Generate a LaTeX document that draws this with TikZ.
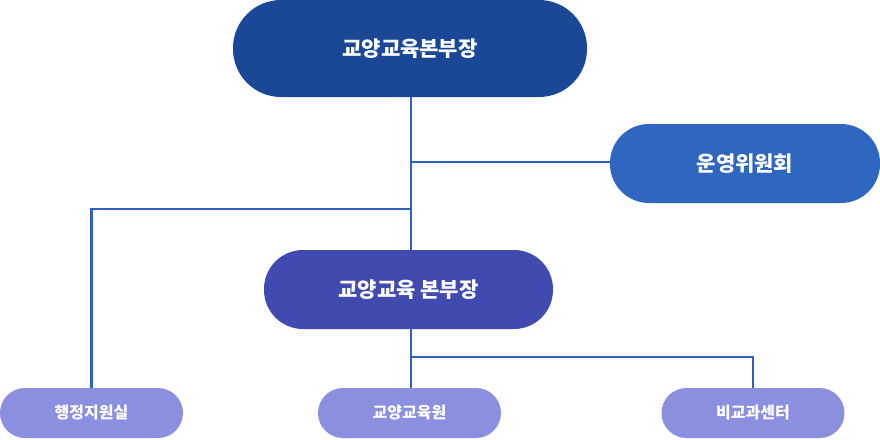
\documentclass[tikz,border=0pt]{standalone}
\usepackage{fontspec}
\newfontfamily\kr{Noto Sans CJK KR}
\definecolor{topblue}{HTML}{1A4897}
\definecolor{sideblue}{HTML}{2E66C0}
\definecolor{midblue}{HTML}{414AAE}
\definecolor{lowblue}{HTML}{8B8FDF}
\definecolor{linkblue}{HTML}{2E62BE}
\tikzset{
  pill/.style={draw=none, text=white, font=\kr\bfseries, inner sep=0pt},
  bigpill/.style={pill, minimum height=79pt, rounded corners=39pt, font=\kr\bfseries\fontsize{21}{24}\selectfont},
  smallpill/.style={pill, fill=lowblue, minimum width=183pt, minimum height=50pt, rounded corners=25pt, font=\kr\bfseries\fontsize{16}{19}\selectfont},
  link/.style={draw=linkblue, line width=2.2pt}
}
\begin{document}
\begin{tikzpicture}[x=1pt,y=-1pt]
    \useasboundingbox (0,0) rectangle (880,439);
    % boxes
    \node[bigpill, fill=topblue, minimum width=354pt, minimum height=97pt, rounded corners=48pt] (head) at (410,48.5) {교양교육본부장};
    \node[bigpill, fill=sideblue, minimum width=270pt] (board) at (745,163.5) {운영위원회};
    \node[bigpill, fill=midblue, minimum width=289pt] (dept) at (408.5,289.5) {교양교육 본부장};
    \node[smallpill] (admin) at (91.5,413) {행정지원실};
    \node[smallpill] (inst) at (409.5,413) {교양교육원};
    \node[smallpill] (extra) at (753,413) {비교과센터};
    % links
    \coordinate (j1) at (411,162);
    \coordinate (j2) at (411,209);
    \coordinate (j3) at (411,357);
    \draw[link] (head.south -| j1) -- (dept.north -| j1);
    \draw[link] (j1) -- (board.west |- j1);
    \draw[link] (j2) -| (admin.north);
    \draw[link] (dept.south -| j3) -- (inst.north -| j3);
    \draw[link] (j3) -| (extra.north);
\end{tikzpicture}
\end{document}
